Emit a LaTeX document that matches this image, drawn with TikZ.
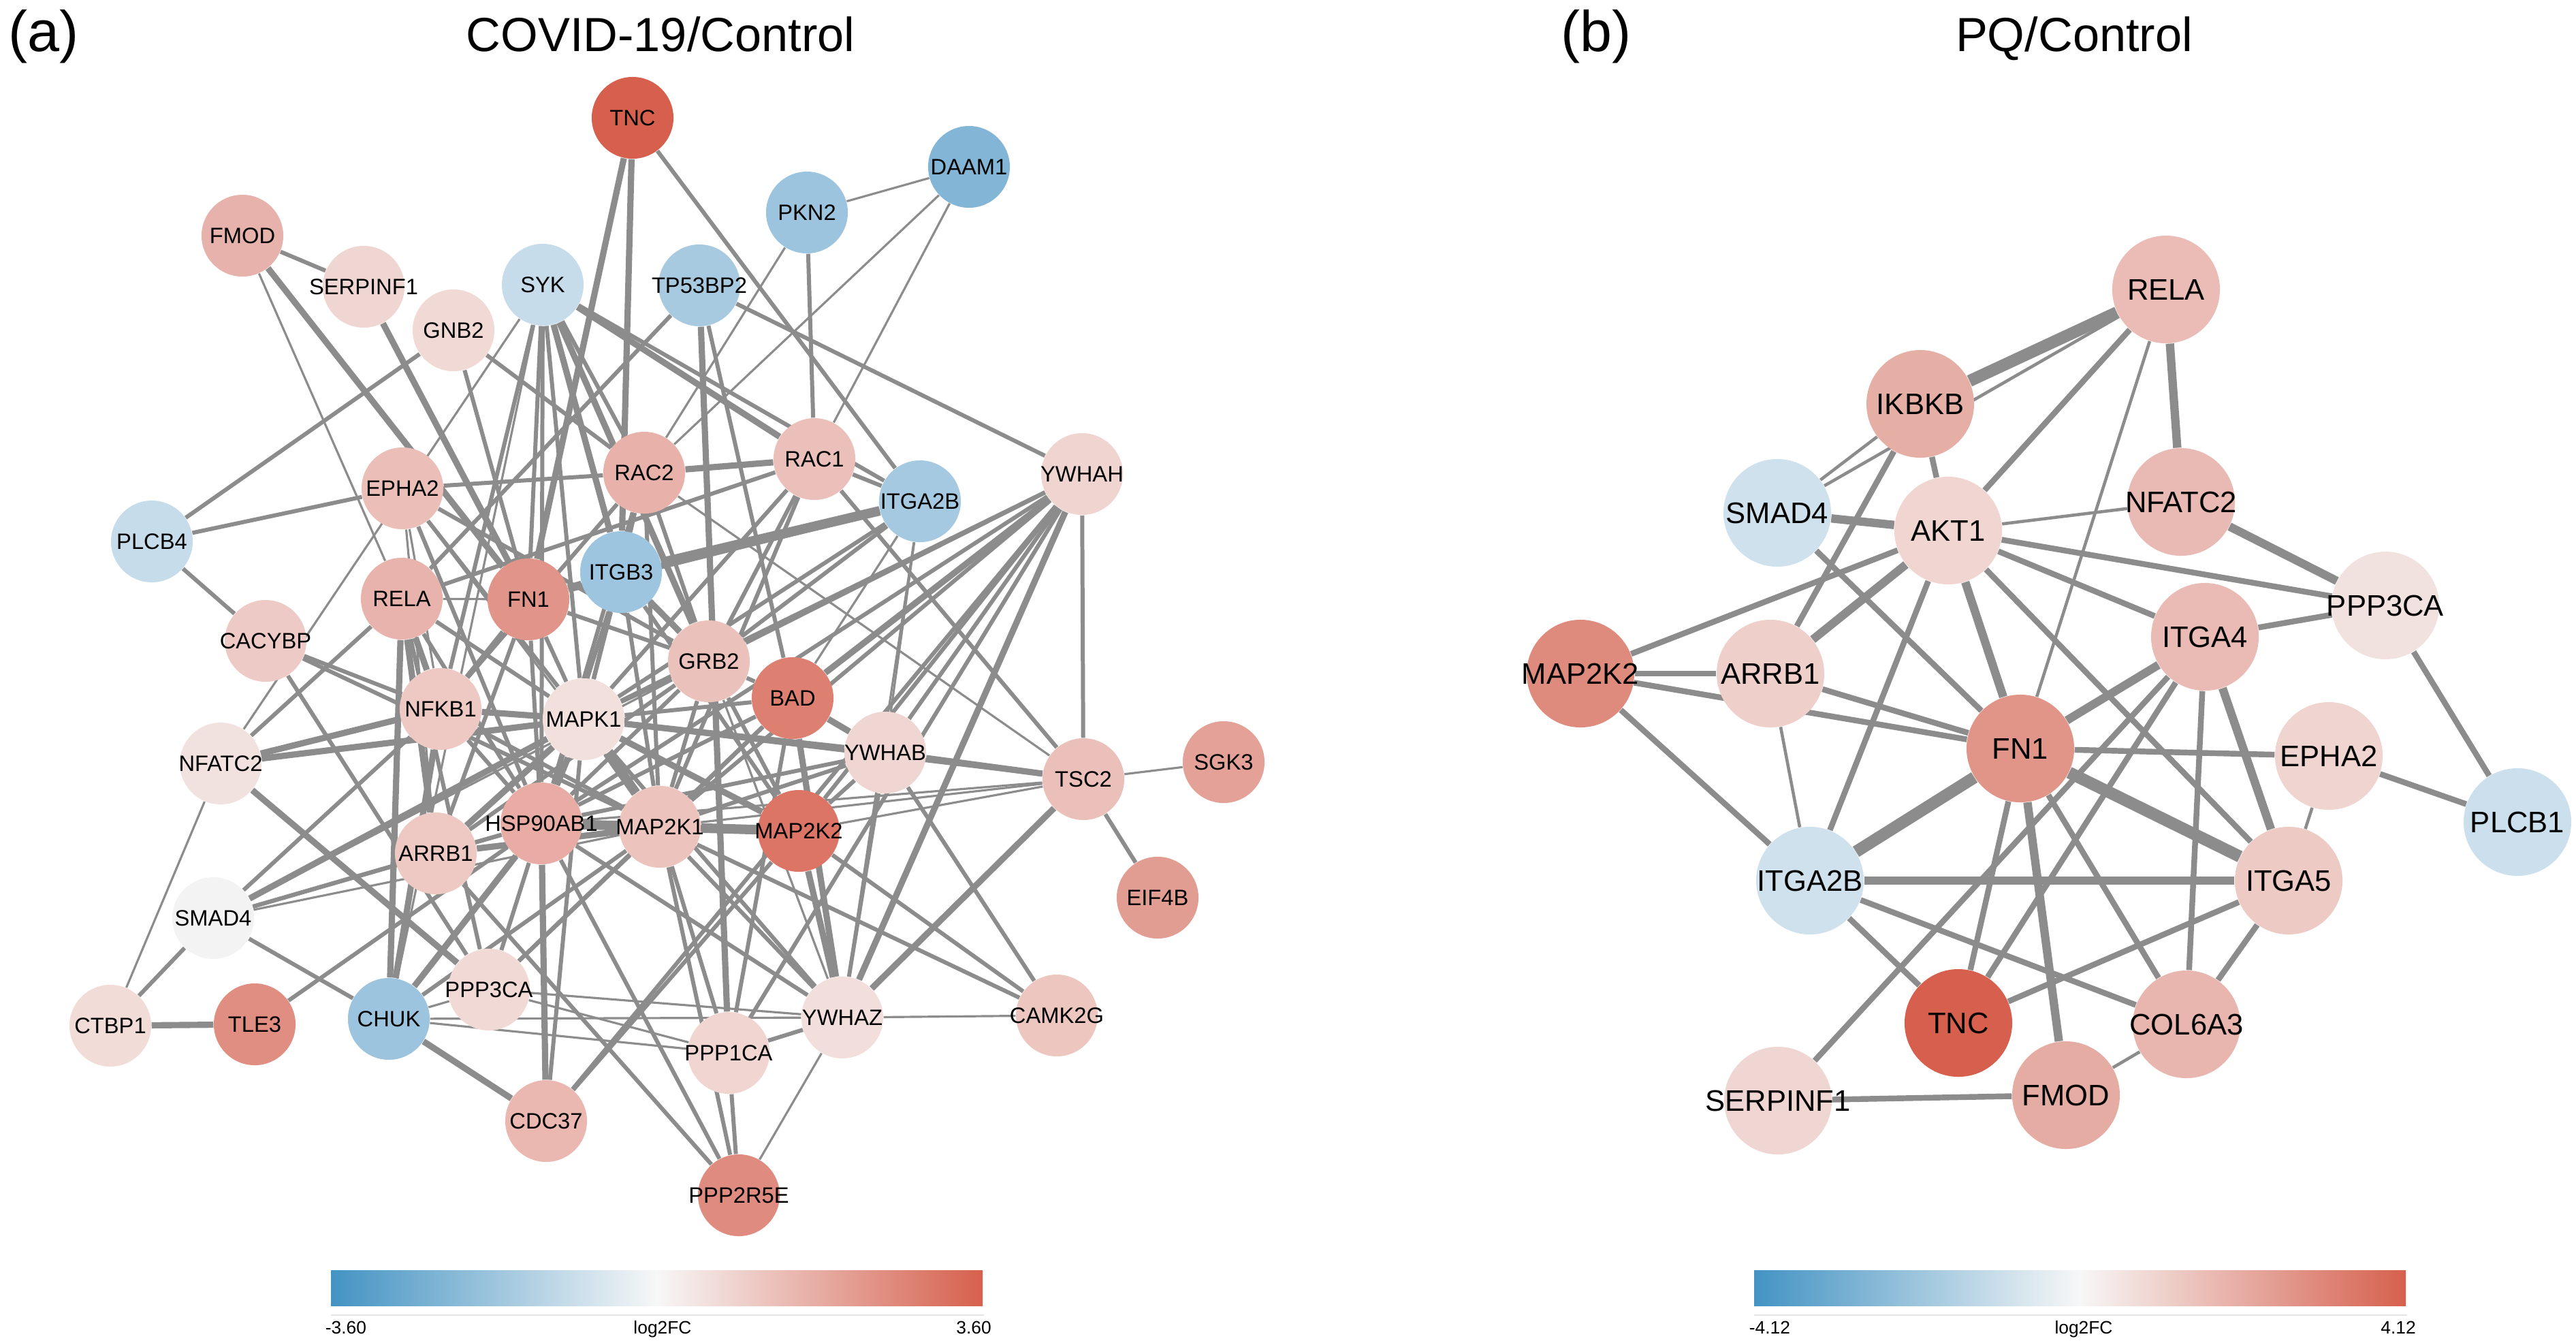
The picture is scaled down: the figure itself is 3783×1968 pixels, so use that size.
\documentclass[tikz,border=0pt]{standalone}
\usepackage{fontspec}
\setmainfont{Liberation Sans}
\pgfdeclarelayer{bg}
\pgfsetlayers{bg,main}
\definecolor{ec}{HTML}{8C8C8C}
\definecolor{cbL}{HTML}{4393C3}
\definecolor{cbM}{HTML}{F7F7F7}
\definecolor{cbR}{HTML}{D6604D}
\definecolor{cbline}{HTML}{E4E4E4}
\newcommand{\gnode}[5]{\definecolor{c#1}{HTML}{#5}\node[#2, fill=c#1] (#1) at (#3) {\makebox[0pt]{#4}};}
\begin{document}
\begin{tikzpicture}[x=0.01cm, y=-0.01cm,
  na/.style={circle, minimum size=1.2cm, inner sep=0pt, font=\fontsize{9.3}{10}\selectfont},
  nb/.style={circle, minimum size=1.58cm, inner sep=0pt, font=\fontsize{12.4}{13}\selectfont},
  et/.style={draw=ec, line width=0.9pt},
  em/.style={draw=ec, line width=1.7pt},
  ek/.style={draw=ec, line width=2.6pt},
  ev/.style={draw=ec, line width=4pt},
  bt/.style={draw=ec, line width=1.3pt},
  bm/.style={draw=ec, line width=2.4pt},
  bk/.style={draw=ec, line width=3.5pt},
  bv/.style={draw=ec, line width=5pt},
  ttl/.style={anchor=base, font=\fontsize{20}{24}\selectfont},
  lbl/.style={anchor=base west, font=\fontsize{24}{28}\selectfont},
  cbt/.style={anchor=base, font=\fontsize{7.5}{9}\selectfont}]
\useasboundingbox (0,0) rectangle (3783,1968);

% titles
\node[lbl] (la) at (0,75) {(a)};
\node[ttl] (ta) at (970,75) {COVID-19/Control};
\node[lbl] (lb) at (2280,75) {(b)};
\node[ttl] (tb) at (3046,75) {PQ/Control};

% ---------- panel (a) nodes ----------
\gnode{aTNC}{na}{929,173}{TNC}{D6604D}
\gnode{aDAAM1}{na}{1423,245}{DAAM1}{82B5D6}
\gnode{aPKN2}{na}{1185,312}{PKN2}{9DC4DE}
\gnode{aFMOD}{na}{356,346}{FMOD}{E6B2AB}
\gnode{aSERPINF1}{na}{534,421}{SERPINF1}{F0D6D2}
\gnode{aSYK}{na}{797,418}{SYK}{C6DCEB}
\gnode{aTP53BP2}{na}{1027,419}{TP53BP2}{A7CAE1}
\gnode{aGNB2}{na}{666,485}{GNB2}{F1D9D5}
\gnode{aYWHAH}{na}{1589,696}{YWHAH}{F0D4D0}
\gnode{aRAC2}{na}{946,694}{RAC2}{E8B2AB}
\gnode{aRAC1}{na}{1196,674}{RAC1}{EBC0BA}
\gnode{aITGA2B}{na}{1351,736}{ITGA2B}{A5C9E1}
\gnode{aEPHA2}{na}{591,717}{EPHA2}{EBBFB8}
\gnode{aPLCB4}{na}{223,795}{PLCB4}{C6DCEB}
\gnode{aITGB3}{na}{912,840}{ITGB3}{9EC5DF}
\gnode{aFN1}{na}{776,880}{FN1}{E0948A}
\gnode{aRELA}{na}{590,879}{RELA}{E8B3AC}
\gnode{aCACYBP}{na}{390,941}{CACYBP}{EDCAC5}
\gnode{aGRB2}{na}{1041,971}{GRB2}{EBC1BB}
\gnode{aBAD}{na}{1164,1025}{BAD}{DE8071}
\gnode{aNFKB1}{na}{647,1041}{NFKB1}{EEC9C4}
\gnode{aMAPK1}{na}{857,1056}{MAPK1}{F2E0DD}
\gnode{aYWHAB}{na}{1300,1105}{YWHAB}{F0D6D2}
\gnode{aTSC2}{na}{1591,1144}{TSC2}{EBC0BA}
\gnode{aSGK3}{na}{1797,1119}{SGK3}{E3A197}
\gnode{aNFATC2}{na}{324,1121}{NFATC2}{F1E2E0}
\gnode{aHSP90AB1}{na}{795,1209}{HSP90AB1}{E8ACA4}
\gnode{aMAP2K1}{na}{969,1214}{MAP2K1}{ECC3BD}
\gnode{aMAP2K2}{na}{1173,1220}{MAP2K2}{DC7565}
\gnode{aARRB1}{na}{640,1253}{ARRB1}{EEC9C4}
\gnode{aEIF4B}{na}{1700,1318}{EIF4B}{E29D93}
\gnode{aSMAD4}{na}{313,1348}{SMAD4}{F3F3F3}
\gnode{aPPP3CA}{na}{718,1453}{PPP3CA}{F1DAD6}
\gnode{aCHUK}{na}{571,1496}{CHUK}{9DC4DE}
\gnode{aYWHAZ}{na}{1237,1494}{YWHAZ}{F2DEDB}
\gnode{aCAMK2G}{na}{1552,1491}{CAMK2G}{EDC6C0}
\gnode{aCTBP1}{na}{162,1506}{CTBP1}{F1DCD8}
\gnode{aTLE3}{na}{374,1504}{TLE3}{E08E81}
\gnode{aPPP1CA}{na}{1070,1546}{PPP1CA}{F0D5D1}
\gnode{aCDC37}{na}{802,1646}{CDC37}{EAB8B1}
\gnode{aPPP2R5E}{na}{1085,1755}{PPP2R5E}{E08B7F}

% ---------- panel (b) nodes ----------
\gnode{bRELA}{nb}{3181,425}{RELA}{EBBCB6}
\gnode{bIKBKB}{nb}{2820,593}{IKBKB}{E6AFA6}
\gnode{bSMAD4}{nb}{2610,753}{SMAD4}{CEE1ED}
\gnode{bAKT1}{nb}{2861,779}{AKT1}{F0D5D1}
\gnode{bNFATC2}{nb}{3203,737}{NFATC2}{E9BAB3}
\gnode{bPPP3CA}{nb}{3503,889}{PPP3CA}{F1E2E0}
\gnode{bMAP2K2}{nb}{2321,989}{MAP2K2}{DE8B7D}
\gnode{bARRB1}{nb}{2600,989}{ARRB1}{EFCFCA}
\gnode{bITGA4}{nb}{3238,935}{ITGA4}{EABBB4}
\gnode{bFN1}{nb}{2967,1099}{FN1}{E19488}
\gnode{bEPHA2}{nb}{3420,1110}{EPHA2}{F0D4D0}
\gnode{bPLCB1}{nb}{3697,1207}{PLCB1}{CCDFEC}
\gnode{bITGA2B}{nb}{2658,1293}{ITGA2B}{CEE1ED}
\gnode{bITGA5}{nb}{3361,1293}{ITGA5}{EDCAC4}
\gnode{bTNC}{nb}{2876,1502}{TNC}{D6604D}
\gnode{bCOL6A3}{nb}{3211,1504}{COL6A3}{E8B6AF}
\gnode{bSERPINF1}{nb}{2611,1616}{SERPINF1}{F0D6D2}
\gnode{bFMOD}{nb}{3034,1608}{FMOD}{E5ACA4}

\begin{pgfonlayer}{bg}
% panel (a) edges
\foreach \u/\v in {ITGB3/ITGA2B, MAP2K1/MAP2K2, MAP2K1/HSP90AB1, MAPK1/MAP2K1}
  \draw[ev] (a\u) -- (a\v);
\foreach \u/\v in {FMOD/FN1, SERPINF1/FN1, TNC/FN1, TNC/ITGB3, SYK/RAC1, SYK/ITGB3, SYK/GRB2,
  TP53BP2/PPP1CA, RAC2/RAC1, RELA/NFKB1, RELA/CHUK, NFATC2/NFKB1, NFATC2/MAPK1, NFATC2/PPP3CA,
  CTBP1/TLE3, CHUK/CDC37, CHUK/HSP90AB1, CHUK/NFKB1, ARRB1/MAP2K1, ARRB1/MAPK1, HSP90AB1/CDC37,
  HSP90AB1/MAPK1, HSP90AB1/MAP2K2, MAPK1/MAP2K2, MAPK1/YWHAB, MAPK1/NFKB1, BAD/YWHAB, BAD/YWHAH,
  BAD/YWHAZ, YWHAB/TSC2, YWHAZ/TSC2, YWHAZ/YWHAH, MAP2K2/YWHAZ, FN1/ITGB3, FN1/ITGA2B, ITGB3/GRB2,
  SMAD4/MAPK1, RELA/ARRB1}
  \draw[ek] (a\u) -- (a\v);
\foreach \u/\v in {FMOD/SERPINF1, GNB2/PLCB4, GNB2/FN1, GNB2/RAC2, SYK/NFKB1, SYK/FN1, SYK/MAPK1,
  SYK/RAC2, SYK/HSP90AB1, TNC/ITGA2B, PKN2/RAC1, TP53BP2/YWHAH, TP53BP2/RELA, TP53BP2/BAD,
  PLCB4/EPHA2, PLCB4/CACYBP, EPHA2/RAC2, EPHA2/GRB2, EPHA2/MAPK1, EPHA2/HSP90AB1, RELA/NFATC2,
  RELA/RAC1, RELA/HSP90AB1, RELA/PPP3CA, CACYBP/NFKB1, CACYBP/PPP3CA, CACYBP/MAP2K1, SMAD4/CTBP1,
  SMAD4/CHUK, SMAD4/NFKB1, SMAD4/HSP90AB1, SMAD4/ARRB1, TLE3/HSP90AB1, CHUK/MAP2K1, ARRB1/PPP2R5E,
  ARRB1/HSP90AB1, ARRB1/GRB2, HSP90AB1/NFKB1, HSP90AB1/GRB2, HSP90AB1/BAD, HSP90AB1/YWHAZ,
  HSP90AB1/PPP3CA, HSP90AB1/FN1, CDC37/MAPK1, CDC37/MAP2K2, PPP3CA/BAD, PPP3CA/MAP2K1, MAPK1/GRB2,
  MAPK1/RELA, MAPK1/ITGB3, MAPK1/TSC2, MAPK1/YWHAZ, MAPK1/FN1, GRB2/MAP2K1, GRB2/RAC2, GRB2/RAC1,
  GRB2/ITGA2B, GRB2/YWHAH, GRB2/FN1, GRB2/BAD, BAD/MAPK1, BAD/PPP1CA, BAD/MAP2K1, YWHAB/YWHAH,
  YWHAB/MAP2K1, YWHAB/MAP2K2, YWHAB/HSP90AB1, YWHAB/CAMK2G, YWHAB/YWHAZ, YWHAH/TSC2, YWHAH/MAP2K1,
  YWHAH/HSP90AB1, YWHAH/MAPK1, YWHAH/MAP2K2, YWHAH/PPP1CA, YWHAH/CDC37, TSC2/EIF4B, TSC2/RAC1,
  MAP2K1/CAMK2G, MAP2K1/PPP2R5E, MAP2K1/YWHAZ, MAP2K1/PPP1CA, MAP2K1/ITGB3, MAP2K1/RAC1,
  MAP2K2/GRB2, MAP2K2/ITGB3, PPP1CA/PPP2R5E, PPP1CA/YWHAZ, PPP2R5E/HSP90AB1, ITGB3/RAC2,
  ITGB3/HSP90AB1, ITGA2B/RAC1, ITGA2B/SYK, ITGA2B/MAPK1, RAC2/MAPK1, RAC2/MAP2K1, RAC2/HSP90AB1,
  RAC1/MAPK1, NFKB1/MAP2K1, NFKB1/FN1, FN1/ARRB1, RAC2/NFKB1, CAMK2G/MAP2K2}
  \draw[em] (a\u) -- (a\v);
\foreach \u/\v in {FMOD/RELA, SYK/NFATC2, DAAM1/PKN2, DAAM1/RAC2, DAAM1/RAC1, PKN2/RAC2, RELA/FN1,
  RELA/MAPK1, EPHA2/NFKB1, EPHA2/MAP2K1, EPHA2/ARRB1, NFATC2/CTBP1, SMAD4/MAP2K1, SMAD4/GRB2,
  CHUK/PPP1CA, CHUK/YWHAZ, PPP3CA/YWHAZ, PPP3CA/PPP1CA, PPP3CA/CHUK, TSC2/SGK3, TSC2/HSP90AB1,
  TSC2/MAP2K1, TSC2/MAP2K2, TSC2/RAC2, ITGA2B/YWHAB, ITGA2B/YWHAZ, ITGA2B/BAD, CAMK2G/YWHAZ,
  PPP2R5E/YWHAZ, YWHAZ/GRB2, SYK/CHUK}
  \draw[et] (a\u) -- (a\v);
% panel (b) edges
\foreach \u/\v in {FN1/ITGA5, FN1/ITGA2B, RELA/IKBKB}
  \draw[bv] (b\u) -- (b\v);
\foreach \u/\v in {RELA/NFATC2, NFATC2/PPP3CA, SMAD4/AKT1, AKT1/ARRB1, AKT1/FN1, FN1/ITGA4,
  ITGA4/ITGA5, FN1/FMOD, ITGA2B/ITGA5}
  \draw[bk] (b\u) -- (b\v);
\foreach \u/\v in {RELA/AKT1, IKBKB/AKT1, AKT1/PPP3CA, AKT1/ITGA4, AKT1/ITGA5, AKT1/MAP2K2,
  AKT1/ITGA2B, ITGA4/PPP3CA, PPP3CA/PLCB1, EPHA2/PLCB1, FN1/EPHA2, FN1/TNC, FN1/COL6A3, FN1/ARRB1,
  MAP2K2/FN1, MAP2K2/ARRB1, MAP2K2/ITGA2B, ITGA4/TNC, ITGA4/COL6A3, ITGA4/SERPINF1, TNC/ITGA5,
  COL6A3/ITGA5, ITGA2B/COL6A3, ITGA2B/TNC, SERPINF1/FMOD, SMAD4/FN1, IKBKB/ARRB1}
  \draw[bm] (b\u) -- (b\v);
\foreach \u/\v in {RELA/FN1, SMAD4/IKBKB, SMAD4/RELA, AKT1/NFATC2, ARRB1/ITGA2B, COL6A3/FMOD,
  EPHA2/ITGA5}
  \draw[bt] (b\u) -- (b\v);
\end{pgfonlayer}

% colour bars
\shade[left color=cbL, right color=cbR, middle color=cbM] (486,1865) rectangle (1443,1917);
\draw[cbline, line width=0.6pt] (486,1931) -- (1445,1931);
\node[cbt] (ca1) at (508,1958) {-3.60};
\node[cbt] (ca2) at (973,1958) {log2FC};
\node[cbt] (ca3) at (1430,1958) {3.60};
\shade[left color=cbL, right color=cbR, middle color=cbM] (2576,1865) rectangle (3533,1917);
\draw[cbline, line width=0.6pt] (2576,1931) -- (3535,1931);
\node[cbt] (cb1) at (2599,1958) {-4.12};
\node[cbt] (cb2) at (3060,1958) {log2FC};
\node[cbt] (cb3) at (3522,1958) {4.12};
\end{tikzpicture}
\end{document}
